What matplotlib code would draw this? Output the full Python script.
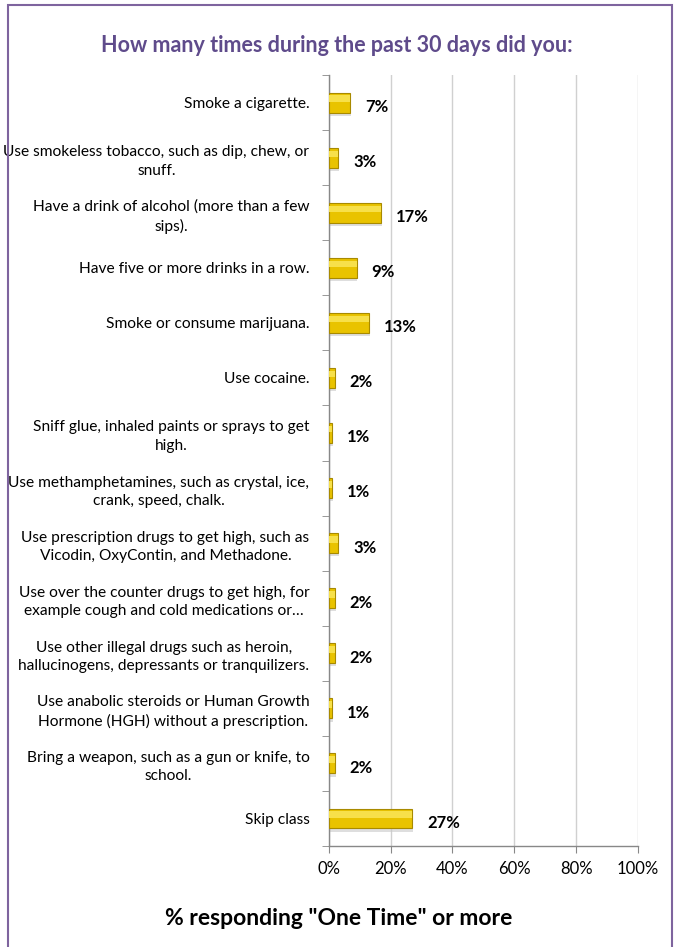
import matplotlib.pyplot as plt
from matplotlib.patches import Rectangle

categories = [
    "Smoke a cigarette.",
    "Use smokeless tobacco, such as dip, chew, or\nsnuff.",
    "Have a drink of alcohol (more than a few\nsips).",
    "Have five or more drinks in a row.",
    "Smoke or consume marijuana.",
    "Use cocaine.",
    "Sniff glue, inhaled paints or sprays to get\nhigh.",
    "Use methamphetamines, such as crystal, ice,\ncrank, speed, chalk.",
    "Use prescription drugs to get high, such as\nVicodin, OxyContin, and Methadone.",
    "Use over the counter drugs to get high, for\nexample cough and cold medications or\u2026",
    "Use other illegal drugs such as heroin,\nhallucinogens, depressants or tranquilizers.",
    "Use anabolic steroids or Human Growth\nHormone (HGH) without a prescription.",
    "Bring a weapon, such as a gun or knife, to\nschool.",
    "Skip class",
]
values = [7, 3, 17, 9, 13, 2, 1, 1, 3, 2, 2, 1, 2, 27]
xticks = [0, 20, 40, 60, 80, 100]

plt.rcParams['font.family'] = ['Lato', 'DejaVu Sans']

fig = plt.figure(figsize=(6.78, 9.47), dpi=100)
ax = fig.add_axes([0.485, 0.1067, 0.456, 0.814])

n = len(categories)
ypos = list(range(n))

# shadow, bar, then a light stripe for the bevel look
ax.barh([y + 0.06 for y in ypos], [v + 0.25 for v in values], height=0.36,
        color='#c8c8c8', alpha=0.6, zorder=2)
ax.barh(ypos, values, height=0.36, color='#E9C300', edgecolor='#A88A00',
        linewidth=0.8, zorder=3)
ax.barh([y - 0.07 for y in ypos], values, height=0.12, color='#F7E04A',
        linewidth=0, zorder=4)

for y, v in zip(ypos, values):
    ax.text(v + 4.8, y + 0.08, f"{v}%", va='center', ha='left',
            fontsize=12, fontweight='bold', color='black', zorder=5)

ax.set_xlim(0, 100)
ax.set_ylim(n - 0.5, -0.5)
ax.set_xticks(xticks)
ax.set_xticklabels([f"{t}%" for t in xticks], fontsize=12)
ax.set_yticks(ypos)
ax.set_yticklabels(categories, fontsize=11.2, multialignment='center',
                   linespacing=1.4)
ax.tick_params(axis='y', length=0, pad=14)
ax.set_yticks([y + 0.5 for y in range(-1, n)], minor=True)
ax.tick_params(axis='y', which='minor', length=5, color='#888888', direction='out')
ax.tick_params(axis='x', length=5, color='#888888', pad=6)

ax.grid(axis='x', color='#d0d0d0', linewidth=1, zorder=0)
ax.set_axisbelow(True)
for s in ['top', 'right']:
    ax.spines[s].set_visible(False)
for s in ['left', 'bottom']:
    ax.spines[s].set_color('#888888')
    ax.spines[s].set_linewidth(1)

fig.text(0.497, 0.952, "How many times during the past 30 days did you:",
         ha='center', va='center', fontsize=15.5, fontweight='bold',
         color='#5F4B8B')
fig.text(0.50, 0.030, '% responding "One Time" or more', ha='center',
         va='center', fontsize=16.5, fontweight='bold', color='black')

fig.patches.append(Rectangle((0.012, -0.02), 0.979, 1.015, transform=fig.transFigure,
                             fill=False, edgecolor='#7E649E', linewidth=1.5))

fig.savefig('out.png', dpi=100)
